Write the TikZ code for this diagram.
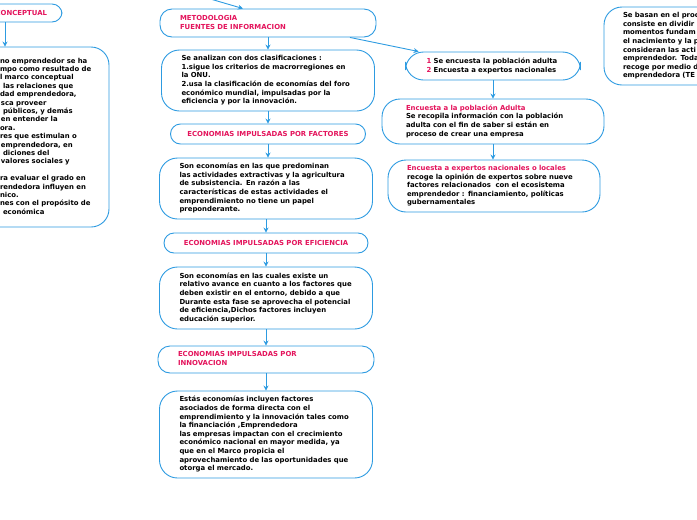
\documentclass[tikz,border=0pt]{standalone}
\usepackage{fontspec}
\setmainfont{DejaVu Sans}
\usetikzlibrary{arrows.meta,positioning}
\definecolor{mapblue}{RGB}{45,155,225}
\definecolor{mappink}{RGB}{228,20,92}
\newcommand{\rows}[1]{\begin{tabular}{@{}l@{}}#1\end{tabular}}
\tikzset{
  box/.style={draw=mapblue, line width=0.9pt, rounded corners=18pt, fill=white,
    inner xsep=20pt, inner ysep=3pt, align=left,
    font=\bfseries\fontsize{6.9}{8.6}\selectfont},
  titlebox/.style={box, rounded corners=12pt, text=mappink},
  centerbox/.style={draw=mapblue, line width=0.9pt, rounded corners=10pt, fill=white,
    align=center, text=mappink, font=\bfseries\fontsize{6.9}{8.6}\selectfont},
  link/.style={draw=mapblue, line width=0.9pt, -{Stealth[length=5pt,width=5pt]}}
}

\begin{document}
\begin{tikzpicture}[x=1pt, y=-1pt]
  \useasboundingbox (0,0) rectangle (697,520);

  % left column (cut by the page edge)
  \node[centerbox, minimum width=114pt, minimum height=18pt, text width=84pt,
    inner xsep=15pt, align=right] (conc) at (5,13) {CONCEPTUAL};
  \node[box, minimum height=180pt, text width=10pt, inner xsep=99pt,
    font=\bfseries\fontsize{6.9}{8.4}\selectfont] (marco) at (5,137) {\rows{%
    no emprendedor se ha\\
    mpo como resultado de\\
    l marco conceptual\\
    \hspace*{3pt}las relaciones que\\
    dad emprendedora,\\
    \hspace*{1pt}sca proveer\\
    \hspace*{3pt}públicos, y demás\\
    \hspace*{1pt}en entender la\\
    ora.\\
    res que estimulan o\\
    \hspace*{1pt}emprendedora, en\\
    \hspace*{3pt}diciones del\\
    \hspace*{1pt}valores sociales y\\
    \\
    ra evaluar el grado en\\
    rendedora influyen en\\
    nico.\\
    nes con el propósito de\\
    \hspace*{3pt}económica}};

  % centre column
  \coordinate (in) at (207,-2);
  \node[titlebox, minimum height=28pt, text width=176pt] (meto) at (268,23)
    {\rows{METODOLOGIA\\FUENTES DE INFORMACION}};
  \node[box, minimum height=61pt, text width=173pt] (clas) at (268,80.5)
    {\rows{Se analizan con dos clasificaciones :\\
     1.sigue los criterios de macrorregiones en\\
     la ONU.\\
     2.usa la clasificación de economías del foro\\
     económico mundial, impulsadas por la\\
     eficiencia y por la innovación.}};
  \node[centerbox, minimum width=195pt, minimum height=20pt] (fact) at (268,134)
    {ECONOMIAS IMPULSADAS POR FACTORES};
  \node[box, minimum height=61pt, text width=173pt] (factdesc) at (266,188.5)
    {\rows{Son economías en las que predominan\\
     las actividades extractivas y la agricultura\\
     de subsistencia. En razón a las\\
     características de estas actividades el\\
     emprendimiento no tiene un papel\\
     preponderante.}};
  \node[centerbox, minimum width=204pt, minimum height=20pt] (efic) at (266,243)
    {ECONOMIAS IMPULSADAS POR EFICIENCIA};
  \node[box, minimum height=62pt, text width=173pt] (eficdesc) at (266,298)
    {\rows{Son economías en las cuales existe un\\
     relativo avance en cuanto a los factores que\\
     deben existir en el entorno, debido a que\\
     Durante esta fase se aprovecha el potencial\\
     de eficiencia,Dichos factores incluyen\\
     educación superior.}};
  \node[titlebox, minimum height=27pt, text width=176pt] (innov) at (266,359.5)
    {\rows{ECONOMIAS IMPULSADAS POR\\INNOVACION}};
  \node[box, minimum height=87pt, text width=173pt] (innovdesc) at (266,434.5)
    {\rows{Estás economías incluyen factores\\
     asociados de forma directa con el\\
     emprendimiento y la innovación tales como\\
     la financiación ,Emprendedora\\
     las empresas impactan con el crecimiento\\
     económico nacional en mayor medida, ya\\
     que en el Marco propicia el\\
     aprovechamiento de las oportunidades que\\
     otorga el mercado.}};

  % right column
  \node[box, minimum height=28pt, text width=133pt, inner xsep=21pt] (enc) at (493,66)
    {\rows{{\color{mappink}1} Se encuesta la población adulta\\
     {\color{mappink}2} Encuesta a expertos nacionales}};
  \node[box, minimum height=45pt, text width=174pt, inner xsep=24pt] (adul) at (493,121.5)
    {\rows{{\color{mappink}Encuesta a la población Adulta}\\
     Se recopila información con la población\\
     adulta con el fin de saber si están en\\
     proceso de crear una empresa}};
  \node[box, minimum height=52pt, text width=174pt, inner xsep=19pt] (expe) at (494,186)
    {\rows{{\color{mappink}Encuesta a expertos nacionales o locales}\\
     recoge la opinión de expertos sobre nueve\\
     factores relacionados\ \ con el ecosistema\\
     emprendedor : financiamiento, políticas\\
     gubernamentales}};
  \node[box, minimum height=78pt, text width=162pt, inner xsep=19pt] (bases) at (704,46)
    {\rows{Se basan en el proc\\
     consiste en dividir\\
     momentos fundam\\
     el nacimiento y la p\\
     consideran las acti\\
     emprendedor. Toda\\
     recoge por medio d\\
     emprendedora (TE}};

  % connectors
  \draw[link] (conc) -- (marco);
  \draw[link] (in) -- (meto.150);
  \draw[link] (meto.-10.7) -- (enc.169);
  \draw[link] (meto) -- (clas);
  \draw[link] (clas) -- (fact);
  \draw[link] (fact) -- (fact |- factdesc.north);
  \draw[link] (factdesc) -- (efic);
  \draw[link] (efic) -- (eficdesc);
  \draw[link] (eficdesc) -- (innov);
  \draw[link] (innov) -- (innovdesc);
  \draw[link] (enc) -- (adul);
  \draw[link] (adul) -- (adul |- expe.north);
\end{tikzpicture}
\end{document}
